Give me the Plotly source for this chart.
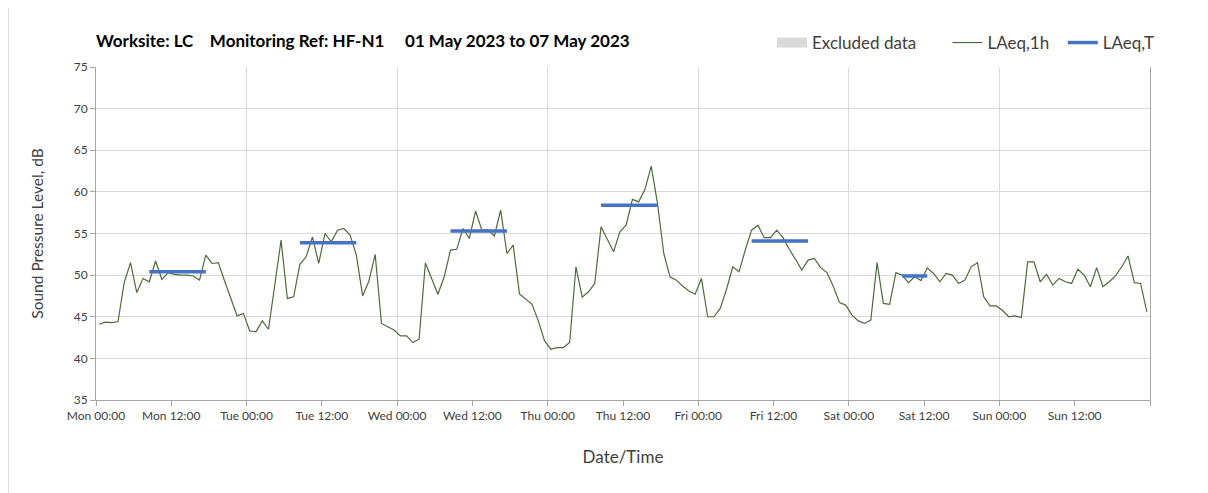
import pandas as pd
import plotly.graph_objects as go

# ---------------- data ----------------
start = pd.Timestamp("2023-05-01 00:00")

laeq_1h = [
    44.1, 44.35, 44.3, 44.4, 49.1, 51.5, 47.9, 49.6, 49.2, 51.7, 49.5, 50.3,
    50.1, 50.0, 50.0, 49.9, 49.4, 52.4, 51.4, 51.5, 49.3, 47.1, 45.1, 45.4,
    43.3, 43.2, 44.5, 43.5, 49.0, 54.2, 47.2, 47.4, 51.3, 52.2, 54.6, 51.4,
    55.0, 54.0, 55.4, 55.6, 54.8, 52.4, 47.5, 49.3, 52.5, 44.2, 43.8, 43.4,
    42.7, 42.7, 41.9, 42.3, 51.45, 49.6, 47.7, 49.8, 53.0, 53.1, 55.6, 54.4,
    57.7, 55.4, 55.4, 54.7, 57.8, 52.6, 53.6, 47.75, 47.1, 46.5, 44.5, 42.1,
    41.1, 41.3, 41.3, 41.9, 51.0, 47.35, 48.0, 49.0, 55.8, 54.3, 52.8, 55.2,
    56.0, 59.1, 58.8, 60.3, 63.1, 58.6, 52.6, 49.8, 49.4, 48.7, 48.1, 47.7,
    49.6, 45.0, 45.0, 46.0, 48.3, 51.0, 50.4, 53.05, 55.4, 56.0, 54.5, 54.5,
    55.4, 54.5, 53.1, 51.9, 50.6, 51.8, 52.0, 50.9, 50.3, 48.7, 46.7, 46.4,
    45.2, 44.5, 44.2, 44.6, 51.5, 46.6, 46.5, 50.3, 50.0, 49.1, 49.8, 49.35,
    50.85, 50.2, 49.2, 50.2, 50.0, 49.0, 49.4, 51.0, 51.5, 47.4, 46.3, 46.3,
    45.75, 45.0, 45.1, 44.9, 51.6, 51.6, 49.2, 50.1, 48.8, 49.6, 49.2, 49.0,
    50.7, 50.0, 48.6, 50.9, 48.6, 49.2, 49.9, 51.0, 52.3, 49.1, 49.0, 45.6,
]

# LAeq,T periods (day index, start hour, end hour) and values
period_day = [0, 1, 2, 3, 4, 5]
period_start_h = [8, 8, 8, 8, 8, 8]
period_end_h = [18, 18, 18, 18, 18, 13]
laeq_t = [50.4, 53.9, 55.3, 58.4, 54.1, 49.9]

tick_labels = [
    "Mon 00:00", "Mon 12:00", "Tue 00:00", "Tue 12:00", "Wed 00:00", "Wed 12:00",
    "Thu 00:00", "Thu 12:00", "Fri 00:00", "Fri 12:00", "Sat 00:00", "Sat 12:00",
    "Sun 00:00", "Sun 12:00", "",
]

# ---------------- build ----------------
half = pd.Timedelta(minutes=30)
times = [start + half + pd.Timedelta(hours=i) for i in range(len(laeq_1h))]

tx, ty = [], []
for d, s, e, v in zip(period_day, period_start_h, period_end_h, laeq_t):
    day0 = start + pd.Timedelta(days=d)
    tx += [day0 + pd.Timedelta(hours=s) + half, day0 + pd.Timedelta(hours=e) - half, None]
    ty += [v, v, None]

tickvals = [start + pd.Timedelta(hours=12 * i) for i in range(len(tick_labels))]
dayvals = [start + pd.Timedelta(days=i) for i in range(8)]
x_end = start + pd.Timedelta(days=7)

FONT = "Lato"
TXT = "#404040"
GRID = "#d9d9d9"
AXIS = "#a6a6a6"
nb = "\u00a0"

fig = go.Figure()
fig.add_trace(go.Scatter(x=[start], y=[None], mode="lines", name="Excluded data" + nb * 6,
                         line=dict(color=GRID, width=10), hoverinfo="skip"))
fig.add_trace(go.Scatter(x=times, y=laeq_1h, mode="lines", name="LAeq,1h" + nb * 2,
                         line=dict(color="#4f6b3a", width=1.2)))
fig.add_trace(go.Scatter(x=tx, y=ty, mode="lines", name="LAeq,T",
                         line=dict(color="#4472c4", width=3.5), connectgaps=False))
# helper trace for day gridlines axis
fig.add_trace(go.Scatter(x=[start, x_end], y=[None, None], xaxis="x2", mode="lines",
                         showlegend=False, hoverinfo="skip"))

OFF = 8  # page offset of the figure
W, H = 1208, 493
L, R, T, B = 96 - OFF, 58 + OFF, 67 - OFF, 93 + OFF
pw, ph = W - L - R, H - T - B

title = ("<b>Worksite: LC" + nb * 4 + "Monitoring Ref: HF-N1" + nb * 5 +
         "01 May 2023 to 07 May 2023</b>")

fig.update_layout(
    width=W, height=H,
    margin=dict(l=L, r=R, t=T, b=B, autoexpand=False),
    paper_bgcolor="white", plot_bgcolor="white",
    font=dict(family=FONT, color=TXT),
    title=dict(text=title, x=0, xref="paper", xanchor="left",
               y=1 - (41 - OFF) / H, yref="container", yanchor="middle",
               font=dict(family=FONT, size=17, color="#000000")),
    legend=dict(orientation="h", x=(1160 - OFF - L) / pw, xanchor="right",
                y=(H - B - (43 - OFF)) / ph,
                yanchor="middle", font=dict(size=17, color=TXT),
                itemwidth=30, tracegroupgap=0, bgcolor="rgba(0,0,0,0)"),
    showlegend=True,
    xaxis=dict(type="date", range=[start, x_end], tickmode="array",
               tickvals=tickvals, ticktext=tick_labels, ticks="outside",
               ticklen=5, tickcolor=AXIS, showline=True, linecolor=AXIS,
               showgrid=False, zeroline=False,
               tickfont=dict(size=12, color=TXT),
               title=dict(text="Date/Time", font=dict(size=17, color=TXT), standoff=28)),
    xaxis2=dict(type="date", overlaying="x", range=[start, x_end], tickmode="array",
                tickvals=dayvals, showticklabels=False, ticks="", showgrid=True,
                gridcolor=GRID, gridwidth=1, showline=False, zeroline=False),
    yaxis=dict(range=[35, 75], tick0=35, dtick=5, showgrid=True, gridcolor=GRID,
               showline=True, linecolor=AXIS, mirror=True, ticks="outside",
               ticklen=5, tickcolor=AXIS, zeroline=False,
               tickfont=dict(size=12, color=TXT),
               title=dict(text="Sound Pressure Level, dB",
                          font=dict(size=15.5, color=TXT), standoff=26)),
    shapes=[dict(type="line", xref="paper", yref="paper",
                 x0=(-L + 0.5) / pw, x1=(-L + 0.5) / pw, y0=-B / ph, y1=(H - B) / ph,
                 line=dict(color=GRID, width=1))],
)

fig.write_html("out.html")
